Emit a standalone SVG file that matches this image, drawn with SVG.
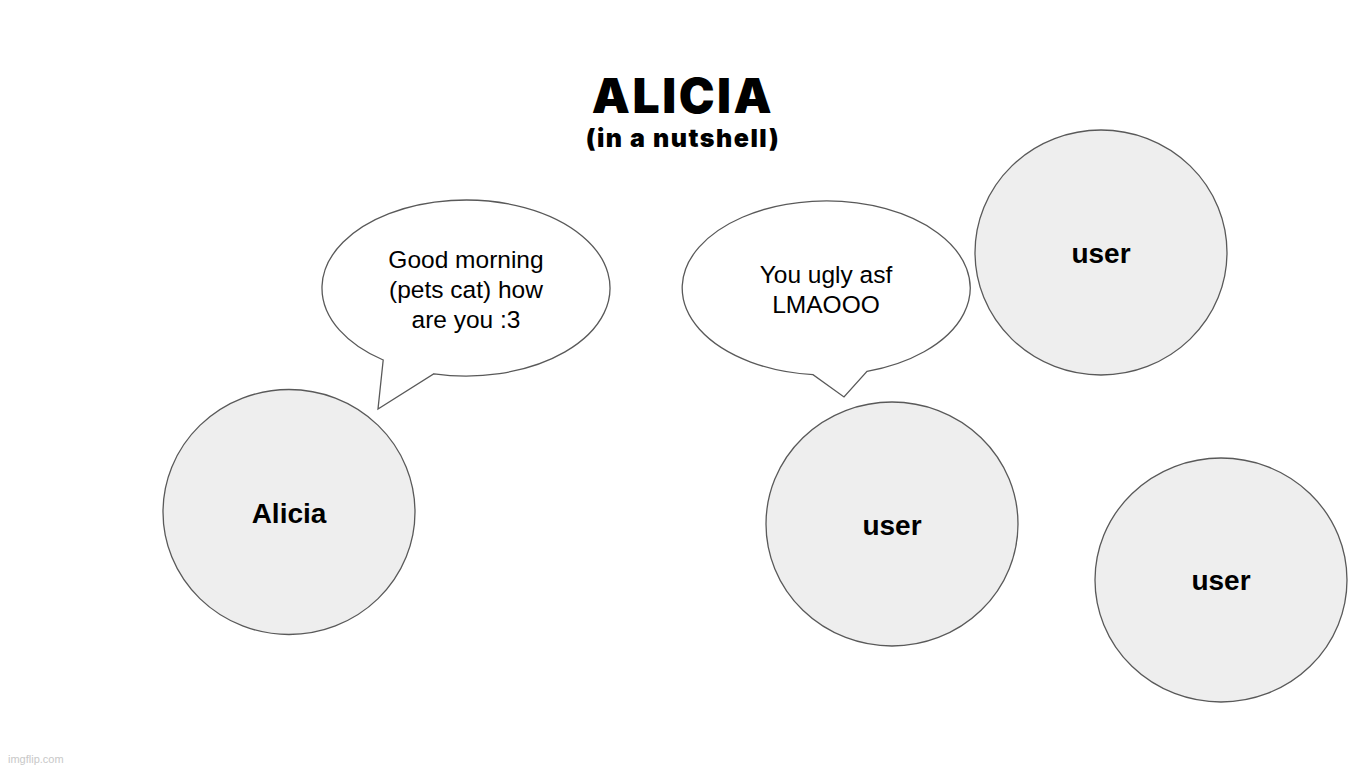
<svg xmlns="http://www.w3.org/2000/svg" width="1366" height="768" viewBox="0 0 1366 768">
<style>
.node{fill:#eeeeee;stroke:#595959;stroke-width:1.3}
.bub{fill:#ffffff;stroke:#595959;stroke-width:1.3}
.lbl{font-family:"Liberation Sans",Arial,sans-serif;font-weight:bold;font-size:28px;fill:#000;text-anchor:middle}
.btxt{font-family:"Liberation Sans",Arial,sans-serif;font-size:24.5px;fill:#000;text-anchor:middle}
.title{font-family:Inter,"DejaVu Sans",sans-serif;font-weight:900;fill:#000;text-anchor:middle}
</style>
<rect width="1366" height="768" fill="#ffffff"/>
<g id="title">
<text class="title" x="683" y="113" font-size="48" letter-spacing="2.5">ALICIA</text>
<text class="title" x="683" y="147" font-size="25" letter-spacing="1.5">(in a nutshell)</text>
</g>
<g id="connectors">
</g>
<g id="bubble1">
<path class="bub" d="M383.2,360 A144,88 0 1 1 434,373.8 L378,409 Z"/>
<text class="btxt" x="466" y="268">Good morning</text>
<text class="btxt" x="466" y="298">(pets cat) how</text>
<text class="btxt" x="466" y="328">are you :3</text>
</g>
<g id="bubble2">
<path class="bub" d="M813,374.6 A144,87 0 1 1 867,371.4 L844,397 Z"/>
<text class="btxt" x="826" y="283">You ugly asf</text>
<text class="btxt" x="826" y="313">LMAOOO</text>
</g>
<g id="alicia">
<ellipse class="node" cx="289" cy="512" rx="126" ry="122.5"/>
<text class="lbl" x="289" y="523">Alicia</text>
</g>
<g id="user1">
<ellipse class="node" cx="1101" cy="252.5" rx="126" ry="122.5"/>
<text class="lbl" x="1101" y="263">user</text>
</g>
<g id="user2">
<ellipse class="node" cx="892" cy="524" rx="126" ry="122"/>
<text class="lbl" x="892" y="535">user</text>
</g>
<g id="user3">
<ellipse class="node" cx="1221" cy="580" rx="126" ry="122"/>
<text class="lbl" x="1221" y="590">user</text>
</g>
<text x="8" y="763" font-family="'Liberation Sans',Arial,sans-serif" font-size="11" fill="#c8c8c8">imgflip.com</text>
</svg>
